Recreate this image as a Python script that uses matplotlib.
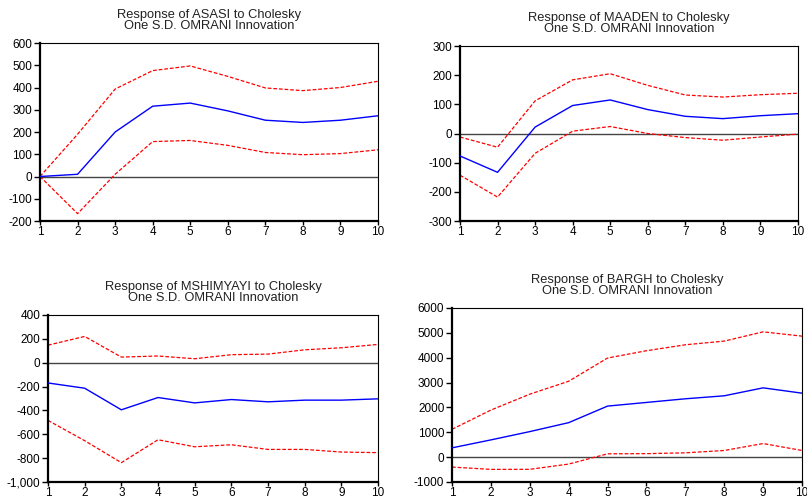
import matplotlib
matplotlib.use("Agg")
import matplotlib.pyplot as plt
from matplotlib.ticker import FuncFormatter, MultipleLocator

plt.rcParams['font.family'] = ['Liberation Sans', 'DejaVu Sans']

periods = [1, 2, 3, 4, 5, 6, 7, 8, 9, 10]

asasi_resp = [0, 10, 200, 316, 330, 295, 253, 243, 253, 273]
asasi_up = [0, 190, 393, 476, 497, 450, 398, 386, 400, 428]
asasi_lo = [0, -167, 10, 157, 162, 140, 108, 98, 103, 120]

maaden_resp = [-77, -133, 22, 96, 115, 82, 59, 51, 61, 68]
maaden_up = [-12, -47, 112, 184, 205, 165, 132, 125, 133, 138]
maaden_lo = [-143, -218, -68, 8, 24, 0, -14, -23, -12, -2]

mshim_resp = [-170, -214, -395, -292, -337, -309, -328, -314, -314, -303]
mshim_up = [147, 220, 47, 56, 33, 67, 72, 108, 125, 153]
mshim_lo = [-484, -654, -838, -646, -705, -688, -727, -727, -749, -754]

bargh_resp = [373, 693, 1027, 1387, 2053, 2200, 2347, 2467, 2787, 2573]
bargh_up = [1120, 1893, 2533, 3053, 3987, 4280, 4520, 4667, 5040, 4867]
bargh_lo = [-400, -493, -490, -280, 133, 140, 173, 267, 547, 267]

titles = ["Response of ASASI to Cholesky\nOne S.D. OMRANI Innovation",
          "Response of MAADEN to Cholesky\nOne S.D. OMRANI Innovation",
          "Response of MSHIMYAYI to Cholesky\nOne S.D. OMRANI Innovation",
          "Response of BARGH to Cholesky\nOne S.D. OMRANI Innovation"]

panels = [
    (asasi_resp, asasi_up, asasi_lo, (-200, 600), 100, [0.0496, 0.5571, 0.4188, 0.3567], False),
    (maaden_resp, maaden_up, maaden_lo, (-300, 300), 100, [0.5700, 0.5571, 0.4188, 0.3507], False),
    (mshim_resp, mshim_up, mshim_lo, (-1000, 400), 200, [0.0595, 0.0341, 0.4089, 0.3347], True),
    (bargh_resp, bargh_up, bargh_lo, (-1000, 6000), 1000, [0.5601, 0.0341, 0.4337, 0.3487], False),
]

fig = plt.figure(figsize=(8.07, 4.99), dpi=100)
for (resp, up, lo, ylim, step, pos, comma), title in zip(panels, titles):
    ax = fig.add_axes(pos)
    ax.axhline(0, color='#444444', lw=1.0, zorder=1)
    ax.plot(periods, up, color='#ff0000', lw=0.9, ls=(0, (3, 1.5)), zorder=2)
    ax.plot(periods, lo, color='#ff0000', lw=0.9, ls=(0, (3, 1.5)), zorder=2)
    ax.plot(periods, resp, color='#0000ff', lw=1.0, zorder=3)
    ax.set_xlim(1, 10)
    ax.set_ylim(*ylim)
    ax.set_xticks(periods)
    ax.yaxis.set_major_locator(MultipleLocator(step))
    if comma:
        ax.yaxis.set_major_formatter(FuncFormatter(lambda v, p: f"{int(v):,}"))
    else:
        ax.yaxis.set_major_formatter(FuncFormatter(lambda v, p: f"{int(v)}"))
    ax.tick_params(axis='y', direction='out', length=4, width=1.0, labelsize=8.5, pad=1.5, colors='black')
    ax.tick_params(axis='x', direction='out', length=3, width=1.0, labelsize=8.5, pad=0.5, colors='black')
    for side in ['left', 'bottom']:
        ax.spines[side].set_linewidth(1.6)
    for side in ['top', 'right']:
        ax.spines[side].set_linewidth(0.8)
    ax.set_title(title, fontsize=9.3, pad=10, linespacing=0.95, color='#222222')

fig.savefig("out.png", dpi=100)
